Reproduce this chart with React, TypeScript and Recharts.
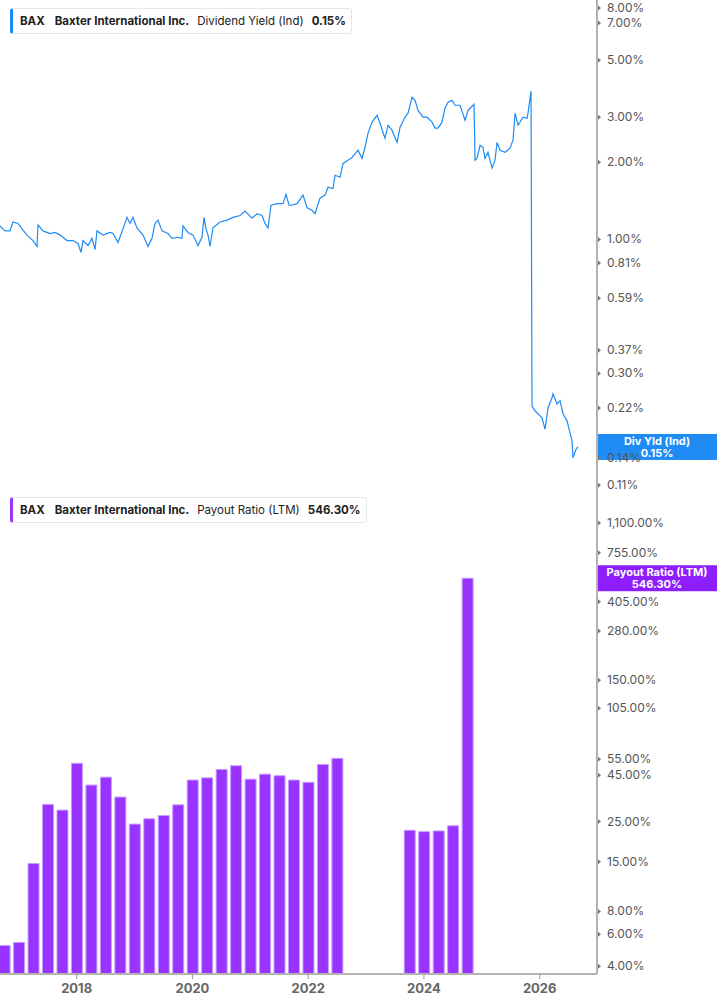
import React from 'react';
import { ComposedChart, Line, Bar, XAxis, YAxis, ReferenceDot } from 'recharts';

// Dividend yield (Ind), in %, sampled along the trace
const yieldYears = [
  2016.675, 2016.761, 2016.848, 2016.9, 2016.986, 2017.055, 2017.142, 2017.245, 2017.314, 2017.332,
  2017.418, 2017.539, 2017.625, 2017.712, 2017.833, 2017.936, 2018.023, 2018.075, 2018.109, 2018.196,
  2018.265, 2018.317, 2018.351, 2018.455, 2018.576, 2018.628, 2018.714, 2018.8, 2018.869, 2018.921,
  2018.973, 2019.042, 2019.146, 2019.232, 2019.301, 2019.353, 2019.405, 2019.474, 2019.578, 2019.647,
  2019.733, 2019.82, 2019.837, 2019.923, 2020.01, 2020.096, 2020.165, 2020.2, 2020.234, 2020.269,
  2020.304, 2020.355, 2020.476, 2020.597, 2020.701, 2020.822, 2020.908, 2021.029, 2021.116, 2021.202,
  2021.254, 2021.306, 2021.358, 2021.461, 2021.565, 2021.617, 2021.669, 2021.703, 2021.807, 2021.911,
  2021.98, 2022.066, 2022.118, 2022.204, 2022.291, 2022.343, 2022.429, 2022.464, 2022.55, 2022.602,
  2022.688, 2022.757, 2022.861, 2022.93, 2022.982, 2023.034, 2023.103, 2023.189, 2023.241, 2023.327,
  2023.379, 2023.448, 2023.535, 2023.587, 2023.673, 2023.725, 2023.794, 2023.846, 2023.898, 2023.984,
  2024.053, 2024.14, 2024.191, 2024.243, 2024.312, 2024.364, 2024.416, 2024.485, 2024.537, 2024.623,
  2024.71, 2024.762, 2024.865, 2024.883, 2024.917, 2024.969, 2025.021, 2025.055, 2025.107, 2025.176,
  2025.228, 2025.263, 2025.315, 2025.401, 2025.487, 2025.539, 2025.574, 2025.626, 2025.712, 2025.781,
  2025.798, 2025.85, 2025.867, 2025.919, 2025.971, 2026.04, 2026.092, 2026.144, 2026.213, 2026.23,
  2026.299, 2026.351, 2026.403, 2026.472, 2026.524, 2026.558, 2026.576, 2026.628, 2026.662,
];
const yieldValues = [
  1.13, 1.08, 1.08, 1.17, 1.155, 1.1, 1.04, 0.99, 0.939, 1.14,
  1.08, 1.055, 1.065, 1.04, 0.99, 0.99, 0.965, 0.89, 0.99, 0.947,
  1.01, 0.914, 1.08, 1.04, 1.065, 1.055, 0.973, 1.1, 1.22, 1.155,
  1.22, 1.11, 1.04, 0.939, 1.01, 1.155, 1.19, 1.08, 1.055, 1.01,
  1.02, 1.01, 1.13, 1.065, 1.04, 0.947, 1.02, 1.22, 1.1, 1.04,
  0.939, 1.11, 1.17, 1.19, 1.22, 1.24, 1.29, 1.21, 1.26, 1.24,
  1.155, 1.11, 1.36, 1.38, 1.38, 1.5, 1.36, 1.36, 1.38, 1.49,
  1.33, 1.3, 1.26, 1.45, 1.49, 1.6, 1.58, 1.78, 1.75, 1.98,
  2.04, 2.09, 2.23, 2.07, 2.29, 2.6, 2.87, 3.05, 2.84, 2.48,
  2.79, 2.67, 2.39, 2.74, 3.0, 3.11, 3.59, 3.49, 3.19, 3.0,
  3.0, 2.87, 2.72, 2.72, 2.87, 3.25, 3.43, 3.49, 3.34, 3.34,
  2.92, 3.19, 3.37, 2.04, 2.07, 2.33, 2.29, 2.07, 2.19, 1.9,
  2.04, 2.39, 2.23, 2.19, 2.27, 2.44, 3.11, 2.79, 3.0, 2.97,
  3.11, 3.79, 0.224, 0.2145, 0.209, 0.201, 0.182, 0.22, 0.241, 0.25,
  0.228, 0.235, 0.209, 0.196, 0.176, 0.164, 0.1405, 0.152, 0.155,
];

// Payout ratio (LTM), quarterly, in %
const payoutYears = [
  2016.75, 2017.0, 2017.25, 2017.5, 2017.75, 2018.0, 2018.25, 2018.5, 2018.75, 2019.0,
  2019.25, 2019.5, 2019.75, 2020.0, 2020.25, 2020.5, 2020.75, 2021.0, 2021.25, 2021.5,
  2021.75, 2022.0, 2022.25, 2022.5, 2023.75, 2024.0, 2024.25, 2024.5, 2024.75,
];
const payoutValues = [
  5.2, 5.4, 14.7, 31.1, 28.9, 52.3, 39.7, 43.9, 34.1, 24.2,
  25.9, 27.0, 30.9, 42.3, 43.5, 48.4, 50.7, 42.8, 45.6, 44.7,
  42.3, 41.1, 51.6, 55.7, 22.4, 22.0, 22.2, 23.7, 546.3,
];

const yieldTicks = [8, 7, 5, 3, 2, 1, 0.81, 0.59, 0.37, 0.3, 0.22, 0.14, 0.11];
const payoutTicks = [1100, 755, 405, 280, 150, 105, 55, 45, 25, 15, 8, 6, 4];
const yearTicks = [2018, 2020, 2022, 2024, 2026];

const currentYield = 0.15;
const currentPayout = 546.3;

const yieldData = yieldYears.map((t, i) => ({ t, v: yieldValues[i] }));
const payoutData = payoutYears.map((t, i) => ({ t, v: payoutValues[i] }));

const FONT = 'Inter, "Noto Sans", sans-serif';
const BLUE = '#1f8bf5';
const PURPLE = '#9933ff';
const X_DOMAIN: [number, number] = [2016.675, 2026.99];

const pct = (v: number) =>
  v.toLocaleString('en-US', { minimumFractionDigits: 2, maximumFractionDigits: 2 }) + '%';

function RightTick(props: any) {
  const { x, y, payload } = props;
  return (
    <g>
      <path d={`M${x + 1},${y - 2.5} L${x + 4},${y} L${x + 1},${y + 2.5} Z`} fill="#777" />
      <text x={x + 10} y={y} dy={4} fontSize={12} fill="#555" fontFamily={FONT}>
        {pct(payload.value)}
      </text>
    </g>
  );
}

function PriceTag(props: any) {
  const { cy, title, value, color } = props;
  return (
    <g>
      <rect x={598} y={cy - 13} width={119} height={26} fill={color} />
      <text x={657} y={cy - 2} textAnchor="middle" fontSize={11} fontWeight={700} fill="#fff" fontFamily={FONT}>
        {title}
      </text>
      <text x={657} y={cy + 10} textAnchor="middle" fontSize={11} fontWeight={700} fill="#fff" fontFamily={FONT}>
        {value}
      </text>
    </g>
  );
}

function SeriesLegend({ top, color, label, value }: { top: number; color: string; label: string; value: string }) {
  return (
    <div
      style={{
        position: 'absolute',
        left: 10,
        top,
        height: 24,
        display: 'flex',
        alignItems: 'center',
        background: '#fff',
        border: '1px solid #e8e8e8',
        borderLeft: `3px solid ${color}`,
        borderRadius: 3,
        padding: '0 5px 0 7px',
        fontFamily: FONT,
        fontSize: 11.5,
        color: '#222',
        whiteSpace: 'nowrap',
      }}
    >
      <b>BAX</b>
      <b style={{ marginLeft: 10 }}>Baxter International Inc.</b>
      <span style={{ marginLeft: 8 }}>{label}</span>
      <b style={{ marginLeft: 8 }}>{value}</b>
    </div>
  );
}

export default function App() {
  const lastYield = yieldData[yieldData.length - 1];
  const lastPayout = payoutData[payoutData.length - 1];

  return (
    <div style={{ position: 'relative', width: 717, height: 1005, background: '#fff', overflow: 'hidden' }}>
      <style>{'body{margin:0} .recharts-surface{overflow:visible}'}</style>

      {/* Payout ratio panel (first, so the upper panel's labels overlap it) */}
      <div style={{ position: 'absolute', left: 0, top: 488 }}>
        <ComposedChart width={717} height={517} data={payoutData} margin={{ top: 0, right: 0, bottom: 0, left: 0 }}>
          <XAxis
            dataKey="t"
            type="number"
            domain={X_DOMAIN}
            allowDataOverflow
            ticks={yearTicks}
            interval={0}
            height={31}
            tickSize={5}
            tickMargin={5}
            tickLine={{ stroke: '#999' }}
            axisLine={{ stroke: '#b3b3b3', strokeWidth: 2 }}
            tick={{ fontSize: 13, fontWeight: 700, fill: '#666', fontFamily: FONT }}
          />
          <YAxis
            orientation="right"
            scale="log"
            domain={[3.62, 1715]}
            allowDataOverflow
            ticks={payoutTicks}
            interval={0}
            width={120}
            tickSize={0}
            tickMargin={0}
            tickLine={false}
            axisLine={{ stroke: '#b3b3b3', strokeWidth: 2 }}
            tick={(p: any) => <RightTick {...p} />}
          />
          <Bar dataKey="v" fill={PURPLE} stroke="#c79bff" strokeWidth={1} barSize={11} isAnimationActive={false} />
          <ReferenceDot
            x={lastPayout.t}
            y={lastPayout.v}
            r={0}
            ifOverflow="visible"
            shape={(p: any) => <PriceTag {...p} title="Payout Ratio (LTM)" value={pct(currentPayout)} color="#8f1eff" />}
          />
        </ComposedChart>
      </div>

      {/* Dividend yield panel */}
      <div style={{ position: 'absolute', left: 0, top: 0 }}>
        <ComposedChart width={717} height={488} data={yieldData} margin={{ top: 0, right: 0, bottom: 0, left: 0 }}>
          <XAxis
            dataKey="t"
            type="number"
            domain={X_DOMAIN}
            allowDataOverflow
            ticks={yearTicks}
            height={0}
            tick={false}
            tickLine={false}
            axisLine={{ stroke: '#dedede', strokeWidth: 2 }}
          />
          <YAxis
            orientation="right"
            scale="log"
            domain={[0.1072, 8.6]}
            allowDataOverflow
            ticks={yieldTicks}
            interval={0}
            width={120}
            tickSize={0}
            tickMargin={0}
            tickLine={false}
            axisLine={{ stroke: '#b3b3b3', strokeWidth: 2 }}
            tick={(p: any) => <RightTick {...p} />}
          />
          <Line
            dataKey="v"
            type="linear"
            stroke={BLUE}
            strokeWidth={1.2}
            dot={false}
            activeDot={false}
            isAnimationActive={false}
          />
          <ReferenceDot
            x={lastYield.t}
            y={lastYield.v}
            r={0}
            ifOverflow="visible"
            shape={(p: any) => <PriceTag {...p} title="Div Yld (Ind)" value={pct(currentYield)} color={BLUE} />}
          />
        </ComposedChart>
      </div>

      <SeriesLegend top={8} color={BLUE} label="Dividend Yield (Ind)" value={pct(currentYield)} />
      <SeriesLegend top={497} color={PURPLE} label="Payout Ratio (LTM)" value={pct(currentPayout)} />
    </div>
  );
}
